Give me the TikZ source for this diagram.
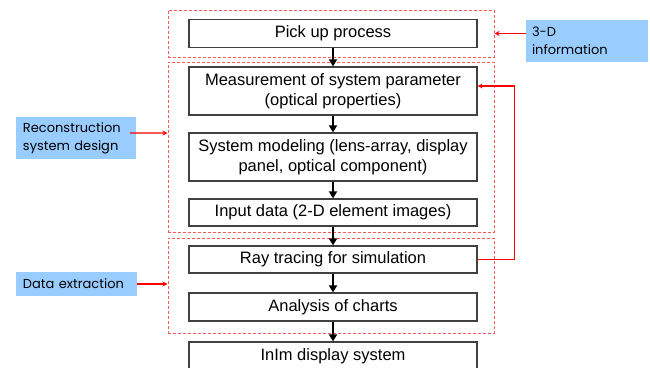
\documentclass[tikz,border=0pt]{standalone}
\usepackage{fontspec}
\setmainfont{Liberation Sans}
\newfontfamily\tagfont{Poppins}
\usetikzlibrary{arrows.meta}
\definecolor{tagblue}{HTML}{99CCFF}

\begin{document}
\begin{tikzpicture}[x=1bp,y=-1bp]
	\tikzstyle{process}=[draw=black!75,line width=1.2bp,minimum width=288bp,inner sep=0pt,align=center,font=\fontsize{16.5bp}{20bp}\selectfont]
	\tikzstyle{group frame}=[draw=red!65,line width=1bp,dash pattern=on 3bp off 2bp,minimum width=326bp,inner sep=0pt]
	\tikzstyle{tagbox}=[fill=tagblue,align=left,inner xsep=7bp,inner ysep=3bp,font=\tagfont\fontsize{13bp}{18bp}\selectfont]

	\tikzstyle{flow}=[-{Triangle[width=8bp,length=7bp]},black,line width=2.5bp]
	\tikzstyle{feed}=[-{Stealth[width=5bp,length=5bp]},red,line width=1.3bp]

	\useasboundingbox (0,0) rectangle (650,367);

	% dashed groups
	\node[group frame,minimum height=47bp] (f1) at (331,33.5) {};
	\node[group frame,minimum height=170bp] (f2) at (331,147) {};
	\node[group frame,minimum height=95bp] (f3) at (331,285.5) {};

	% process steps
	\node[process,minimum height=28bp] (pick) at (333,33.5) {Pick up process};
	\node[process,minimum height=48bp] (meas) at (333,91) {Measurement of system parameter\\(optical properties)};
	\node[process,minimum height=48bp] (model) at (333,157) {System modeling (lens-array, display\\panel, optical component)};
	\node[process,minimum height=27bp] (input) at (333,212.5) {Input data (2-D element images)};
	\node[process,minimum height=27bp] (ray) at (333,259.5) {Ray tracing for simulation};
	\node[process,minimum height=28bp] (chart) at (333,307) {Analysis of charts};
	\node[process,minimum height=28bp] (inim) at (333,356) {InIm display system};

	\foreach \a/\b in {pick/meas,meas/model,model/input,input/ray,ray/chart,chart/inim}
		\draw[flow] (\a) -- (\b);

	% feedback loop
	\draw[feed] (ray.east) -- ++(37,0) |- ([yshift=5bp]meas.east);

	% side tags
	\node[tagbox,text width=106bp,minimum height=42bp] (recon) at (76,138) {Reconstruction\\system design};
	\node[tagbox,text width=107bp,minimum height=24bp] (dext) at (76.5,284) {Data extraction};
	\node[tagbox,inner xsep=6bp,text width=110bp,minimum height=42bp] (info) at (587,41) {3-D\\information};

	\draw[feed] ([shift={(-6,-5)}]recon.east) -- ([yshift=5bp]recon.east -| f2.west);
	\draw[feed] (dext.east) -- (dext.east -| f3.west);
	\draw[feed] (info.west |- f1.east) -- (f1.east);
\end{tikzpicture}
\end{document}
